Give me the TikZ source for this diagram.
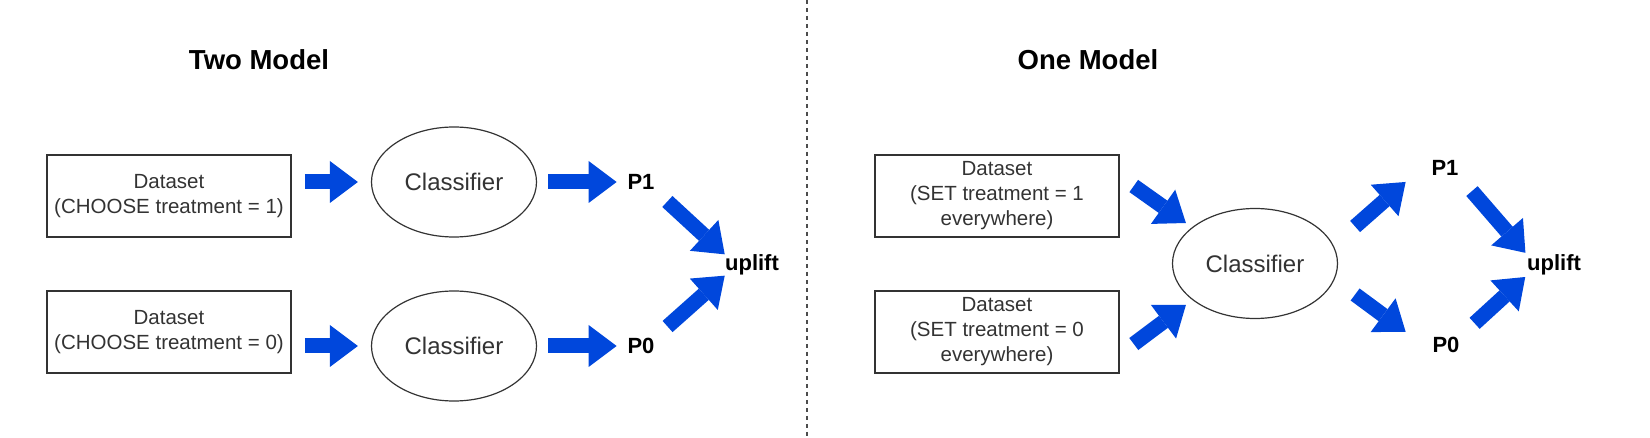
\documentclass[tikz,border=0pt]{standalone}
\usepackage{fontspec}
\setmainfont{Liberation Sans}
\usepackage{tikz}
\usetikzlibrary{positioning, calc, shapes.geometric, arrows.meta}
\definecolor{myblue}{HTML}{0047DC}
\definecolor{mygray}{HTML}{333333}
\tikzset{
	datanode/.style={
			rectangle,
			draw=mygray,
			line width=0.75pt,
			minimum width=122pt,
			minimum height=41pt,
			inner sep=0pt,
			align=center,
			text=mygray,
			font=\fontsize{10.25}{12.5}\selectfont
		},
	classnode/.style={
			ellipse,
			draw=mygray,
			line width=0.6pt,
			minimum width=82.5pt,
			minimum height=55pt,
			inner sep=0pt,
			text=mygray,
			font=\fontsize{12}{14}\selectfont
		},
	labelnode/.style={
			inner sep=0pt,
			font=\fontsize{11}{13}\selectfont\bfseries
		},
	titlenode/.style={
			inner sep=0pt,
			font=\fontsize{13.75}{16}\selectfont\bfseries
		},
	fatarrow/.style={
			draw=myblue,
			line width=7.5pt,
			-{Triangle[length=14pt, width=21pt, line width=0pt]}
		}
}

\begin{document}
\begin{tikzpicture}[x=0.5pt, y=0.5pt]
    \useasboundingbox (0,0) rectangle (1650,-438);

    % left: two models
    \node[titlenode] (tl) at (259,-60) {Two Model};
    \node[datanode] (box1) at (169,-196) {Dataset\\(CHOOSE treatment = 1)};
    \node[datanode] (box2) at (169,-332) {Dataset\\(CHOOSE treatment = 0)};
    \node[classnode] (cls1) at (454,-182) {Classifier};
    \node[classnode] (cls2) at (454,-346) {Classifier};
    \node[labelnode] (p1) at (641,-182) {P1};
    \node[labelnode] (p0) at (641,-346) {P0};
    \node[labelnode] (up1) at (752,-265) {uplift};

    \draw[fatarrow, shorten <=6.5pt, shorten >=6.5pt] (box1.east |- cls1.west) -- (cls1.west);
    \draw[fatarrow, shorten <=6.5pt, shorten >=6.5pt] (box2.east |- cls2.west) -- (cls2.west);
    \draw[fatarrow, shorten <=5.5pt, shorten >=5.25pt] (cls1.east) -- (p1.west);
    \draw[fatarrow, shorten <=5.5pt, shorten >=5.25pt] (cls2.east) -- (p0.west);
    \draw[fatarrow, shorten <=8.5pt, shorten >=0pt] (p1.south east) -- (up1.north west);
    \draw[fatarrow, shorten <=8.5pt, shorten >=0pt] (p0.north east) -- (up1.south west);

    % divider
    \coordinate (divtop) at (807,0);
    \coordinate (divbot) at (807,-438);
    \draw[black!70, line width=0.6pt, dash pattern=on 2pt off 2pt] (divtop) -- (divbot);

    % right: one model
    \node[titlenode] (tr) at (1088,-60) {One Model};
    \node[datanode] (box3) at (997,-196) {Dataset\\(SET treatment = 1\\everywhere)};
    \node[datanode] (box4) at (997,-332) {Dataset\\(SET treatment = 0\\everywhere)};
    \node[classnode] (cls3) at (1255,-263.5) {Classifier};
    \node[labelnode] (q1) at (1445,-168) {P1};
    \node[labelnode] (q0) at (1446,-345) {P0};
    \node[labelnode] (up2) at (1554,-265) {uplift};

    \draw[fatarrow] ($(box3.east)+(14,10)$) -- ($(cls3.west)+(14,40.5)$);
    \draw[fatarrow] ($(box4.east)+(14,-12)$) -- ($(cls3.west)+(14,-41.5)$);
    \draw[fatarrow] ($(cls3.east)+(17,37)$) -- ($(q1.south west)+(-25.5,-6)$);
    \draw[fatarrow] ($(cls3.east)+(17,-31)$) -- ($(q0.north west)+(-26.5,5)$);
    \draw[fatarrow, shorten <=10pt, shorten >=1pt] (q1.south east) -- (up2.north west);
    \draw[fatarrow, shorten <=10pt, shorten >=1pt] (q0.north east) -- (up2.south west);
\end{tikzpicture}
\end{document}
